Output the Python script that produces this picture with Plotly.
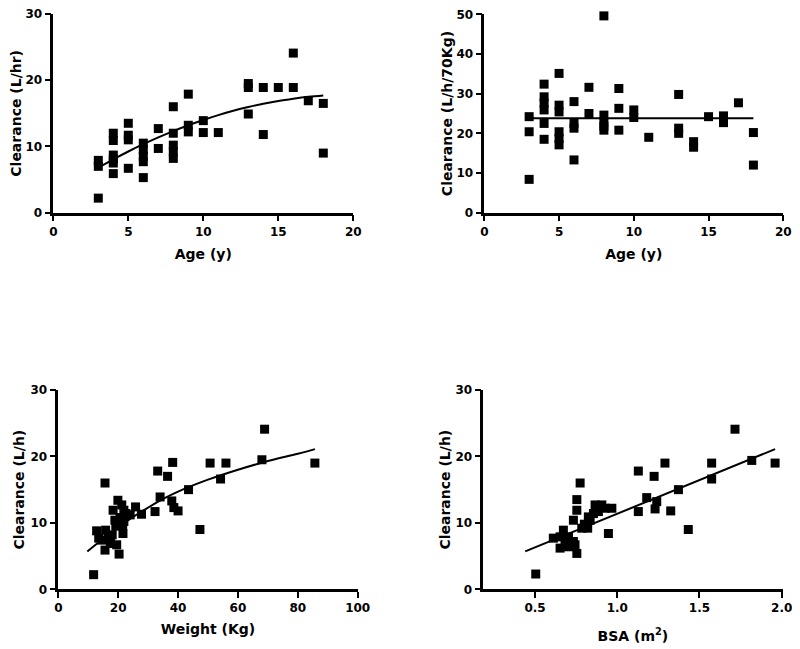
import plotly.graph_objects as go

# ---------------- Panel A: Age vs Clearance (L/hr) ----------------
age_a = [3, 3, 3,
         4, 4, 4, 4, 4, 4,
         5, 5, 5, 5,
         6, 6, 6, 6, 6,
         7, 7,
         8, 8, 8, 8, 8,
         9, 9, 9,
         10, 10,
         11,
         13, 13, 13,
         14, 14,
         15,
         16, 16,
         17,
         18, 18]
cl_a = [7.9, 7.0, 2.2,
        12.0, 10.9, 8.7, 8.1, 7.5, 5.9,
        13.5, 11.7, 11.0, 6.7,
        10.5, 9.5, 8.5, 7.7, 5.3,
        12.7, 9.7,
        16.0, 12.0, 10.2, 9.2, 8.2,
        17.9, 13.2, 12.2,
        13.9, 12.1,
        12.1,
        19.5, 18.9, 14.9,
        18.9, 11.8,
        18.9,
        24.1, 18.9,
        16.9,
        16.5, 9.0]
fit_age_a = [3, 4, 5, 6, 7, 8, 9, 10, 11, 12, 13, 14, 15, 16, 17, 18]
fit_cl_a = [6.80, 8.06, 9.24, 10.34, 11.37, 12.32, 13.20, 14.00, 14.73,
            15.38, 15.95, 16.45, 16.88, 17.22, 17.50, 17.70]

# ---------------- Panel B: Age vs Clearance (L/h/70Kg) ----------------
age_b = [3, 3, 3,
         4, 4, 4, 4, 4, 4,
         5, 5, 5, 5, 5, 5,
         6, 6, 6, 6,
         7, 7,
         8, 8, 8, 8, 8,
         9, 9, 9,
         10, 10,
         11,
         13, 13, 13,
         14, 14,
         15,
         16, 16,
         17,
         18, 18]
cl_b = [24.2, 20.4, 8.4,
        32.4, 29.2, 27.6, 25.9, 22.5, 18.5,
        35.1, 27.1, 25.4, 20.4, 18.7, 17.1,
        28.0, 22.5, 21.3, 13.3,
        31.6, 25.0,
        49.6, 24.6, 22.9, 20.8, 21.8,
        31.3, 26.3, 20.8,
        25.9, 24.0,
        19.0,
        29.8, 21.3, 20.0,
        17.9, 16.5,
        24.2,
        24.4, 22.7,
        27.7,
        20.2, 12.0]
fit_age_b = [3, 18]
fit_cl_b = [23.8, 23.8]

# ---------------- Panel C: Weight vs Clearance (L/h) ----------------
wt_c = [11.8, 12.8, 13.5, 14.5, 15.6, 15.6, 15.8, 16.7, 17.4, 18.0,
        18.3, 18.9, 19.5, 20.3, 19.9, 21.2, 20.6, 21.5, 21.6, 21.9,
        22.6, 21.9, 24.0, 25.8, 27.8, 32.3, 33.2, 34.0, 36.5, 38.2,
        37.9, 38.6, 40.0, 43.5, 47.3, 50.7, 54.2, 56.0, 68.0, 68.9,
        85.7, 19.2, 17.2]
cl_c = [2.2, 8.8, 7.7, 7.4, 16.0, 5.9, 8.9, 7.9, 6.9, 8.2,
        11.9, 10.4, 6.7, 5.3, 13.4, 12.7, 10.8, 9.7, 8.4, 11.9,
        11.4, 10.2, 11.2, 12.4, 11.3, 11.7, 17.8, 13.9, 17.0, 19.1,
        13.3, 12.3, 11.8, 15.0, 9.0, 19.0, 16.6, 19.0, 19.5, 24.1,
        19.0, 9.5, 7.6]
fit_wt_c = [9.7, 15, 20, 25, 30, 35, 40, 50, 60, 70, 80, 85.7]
fit_cl_c = [5.7, 7.6, 9.3, 10.9, 12.3, 13.6, 14.7, 16.5, 18.0, 19.3, 20.4, 21.1]

# ---------------- Panel D: BSA vs Clearance (L/h) ----------------
bsa_d = [0.774, 0.754, 0.754, 0.733, 0.865, 0.926, 0.967, 0.855, 0.835, 0.804,
         0.784, 0.946, 0.672, 0.611, 0.652, 0.703, 0.682, 0.733, 0.652, 0.703,
         0.754, 0.743, 0.824, 0.885, 0.906,
         0.504, 1.128, 1.128, 1.179, 1.224, 1.23, 1.24, 1.29, 1.325, 1.372,
         1.432, 1.574, 1.574, 1.716, 1.818, 1.96, 0.80, 0.82]
cl_d = [16.0, 13.5, 11.9, 10.4, 12.7, 12.2, 12.2, 11.4, 10.4, 9.7,
        9.2, 8.4, 8.9, 7.7, 7.9, 7.9, 7.2, 7.2, 6.2, 6.4,
        5.4, 6.7, 10.9, 11.7, 12.7,
        2.3, 17.8, 11.7, 13.8, 17.0, 12.1, 13.2, 19.0, 11.8, 15.0,
        9.0, 19.0, 16.6, 24.1, 19.4, 19.0, 9.8, 9.2]
fit_bsa_d = [0.44, 1.96]
fit_cl_d = [5.7, 21.1]

# The page body has an 8px margin, so the figure fills the rest of the window.
OFF = 8
W, H = 800 - OFF, 649 - OFF
FONT = "DejaVu Sans, Arial, sans-serif"

fig = go.Figure()

panels = [
    (age_a, cl_a, fit_age_a, fit_cl_a, "x", "y"),
    (age_b, cl_b, fit_age_b, fit_cl_b, "x2", "y2"),
    (wt_c, cl_c, fit_wt_c, fit_cl_c, "x3", "y3"),
    (bsa_d, cl_d, fit_bsa_d, fit_cl_d, "x4", "y4"),
]
for xs, ys, fx, fy, xa, ya in panels:
    fig.add_trace(go.Scatter(x=fx, y=fy, mode="lines", xaxis=xa, yaxis=ya,
                             line=dict(color="black", width=2, shape="spline"),
                             cliponaxis=False, showlegend=False, hoverinfo="skip"))
    fig.add_trace(go.Scatter(x=xs, y=ys, mode="markers", xaxis=xa, yaxis=ya,
                             marker=dict(symbol="square", size=9, color="black",
                                         line=dict(width=0)),
                             cliponaxis=False, showlegend=False))

def px_x(a, b):
    return [(a - OFF) / W, (b - OFF) / W]

def px_y(top, bottom):
    return [1 - (bottom - OFF) / H, 1 - (top - OFF) / H]

tickfont = dict(family=FONT, size=12, color="black", weight="bold")
titlefont = dict(family=FONT, size=14, color="black", weight="bold")

def axis(domain, rng, tickvals, title, anchor, fmt=None, standoff=8):
    d = dict(domain=domain, range=rng, tickvals=tickvals, showline=True,
             linecolor="black", linewidth=2.5, ticks="outside", ticklen=6,
             tickwidth=2, tickcolor="black", showgrid=False, zeroline=False,
             tickfont=tickfont, anchor=anchor, automargin=False,
             ticklabeloverflow="allow",
             title=dict(text=title, font=titlefont, standoff=standoff))
    if fmt:
        d["tickformat"] = fmt
    return d

fig.update_layout(
    width=W, height=H, plot_bgcolor="white", paper_bgcolor="white",
    margin=dict(l=0, r=0, t=0, b=0, autoexpand=False),
    font=dict(family=FONT, color="black"),
    xaxis=axis(px_x(53.3, 353.3), [0, 20], [0, 5, 10, 15, 20], "Age (y)", "y", standoff=12),
    yaxis=axis(px_y(14, 212.7), [0, 30], [0, 10, 20, 30], "Clearance (L/hr)", "x", standoff=8),
    xaxis2=axis(px_x(484.3, 783.3), [0, 20], [0, 5, 10, 15, 20], "Age (y)", "y2", standoff=12),
    yaxis2=axis(px_y(14.3, 212.7), [0, 50], [0, 10, 20, 30, 40, 50], "Clearance (L/h/70Kg)", "x2", standoff=1),
    xaxis3=axis(px_x(58.3, 357.7), [0, 100], [0, 20, 40, 60, 80, 100], "Weight (Kg)", "y3", standoff=10),
    yaxis3=axis(px_y(390, 589.3), [0, 30], [0, 10, 20, 30], "Clearance (L/h)", "x3", standoff=3),
    xaxis4=axis(px_x(483.3, 782.5), [0.185, 2.005], [0.5, 1.0, 1.5, 2.0], "BSA (m<sup>2</sup>)", "y4", fmt=".1f", standoff=17),
    yaxis4=axis(px_y(390, 589.3), [0, 30], [0, 10, 20, 30], "Clearance (L/h)", "x4", standoff=2),
)

fig.write_html("out.html")
